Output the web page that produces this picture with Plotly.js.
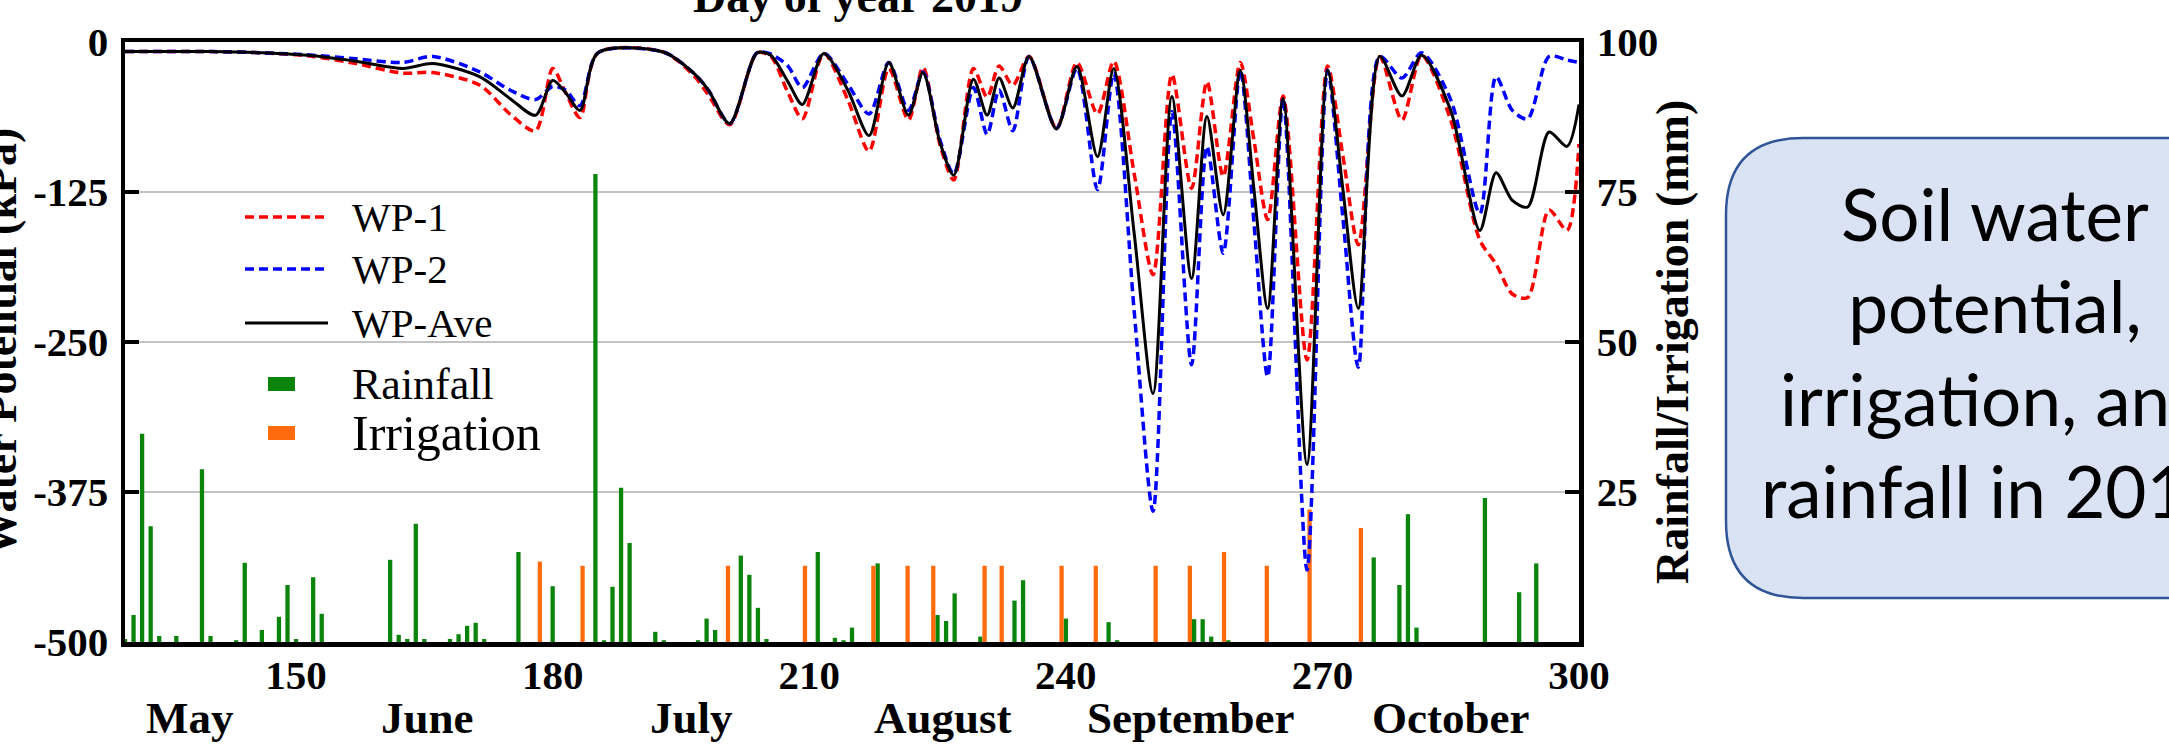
<!DOCTYPE html>
<html>
<head>
<meta charset="utf-8">
<script src="https://cdn.plot.ly/plotly-3.0.1.min.js"></script>
<style>html,body{margin:0;padding:0;background:#fff;}#chart{width:2169px;height:747px;}</style>
</head>
<body>
<div id="chart"></div>
<script>
// ---- data ----
const wpDays = [130,140,146,152,157,162.5,166,171.5,175,178,180,181.5,183.2,185.3,193,196.5,198.2,200.7,203.9,205.5,207.5,209.2,211.7,214.5,217,219.3,221.6,223.3,225.3,226.9,229.2,230.8,232.2,233.8,235.7,238.9,241.3,243.7,245.6,248,250.2,252.4,254.7,256.5,258.4,260.4,262,263.6,265.4,268.2,270.6,272.4,274.2,276.7,279.3,281.6,285,288.4,290.3,292.2,294,296.5,298.6,300];
const wp1 = [-8,-8,-9,-12,-18,-26,-25.5,-36,-60,-74,-22,-42,-63,-9,-8.5,-28,-44,-69,-9,-12,-42,-64,-9.5,-48,-91,-22,-65,-21,-86,-115,-22,-46,-20,-36,-12,-72,-17,-60,-16,-110,-194,-27,-122,-33,-112,-17,-82,-148,-45,-265,-20,-95,-169,-12,-65,-11,-65,-165,-185,-210,-213,-140,-157,-85];
const wp2 = [-8,-8,-9,-11,-14,-17,-12,-25,-40,-48,-37,-40,-53,-9,-8.5,-26,-40,-68,-9,-10,-20,-38,-9.5,-35,-60,-17,-57,-25,-82,-110,-38,-77,-40,-74,-12,-72,-22,-123,-26,-225,-391,-58,-269,-87,-176,-23.5,-151,-279,-47,-440,-23.5,-147,-271,-12,-30,-9,-48,-143,-29,-57,-64,-12,-15,-17];
const wpAve = [-8,-8,-9,-11.5,-16,-22,-18,-29,-47,-61,-32,-42,-57,-9,-8.5,-26,-40,-68,-9,-11,-33,-52,-9.5,-40,-78,-17,-61,-25.5,-84,-111,-31,-61,-30,-55,-12,-72.5,-20.5,-95.5,-22,-160,-293,-45.5,-197,-62,-144,-23.5,-123,-222,-47,-352,-23.5,-123,-222,-12,-45,-11,-57,-157,-109,-132,-137.5,-75,-87,-52];

const rainDays = [130,131,132,133,134,136,139,140,143,144,146,148,149,150,152,153,161,162,163,164,165,168,169,170,171,172,176,180,185,186,187,188,189,192,193,197,198,199,202,203,204,205,211,213,214,215,218,225,226,227,230,234,235,240,245,246,255,256,257,259,276,279,280,281,289,293,295];
const rainMm = [0.5,4.5,34.7,19.3,1,1,28.8,1,0.3,13.2,2,4.2,9.5,0.5,10.8,4.7,13.7,1.2,0.5,19.7,0.5,0.5,1.3,2.7,3.2,0.5,15,9.3,78,0.3,9.2,25.7,16.5,1.7,0.3,0.3,3.9,2,14.4,11.2,5.7,0.5,15,0.7,0.3,2.4,13.1,4.5,3.5,8.1,0.9,6.9,10.3,3.9,3.3,0.3,3.8,3.8,0.9,0.3,14.1,9.5,21.3,2.4,24,8.3,13.1];

const irrDays = [178.5,183.5,200.5,209.5,217.5,221.5,224.5,230.5,232.5,239.5,243.5,250.5,254.5,258.5,263.5,268.5,274.5];
const irrMm = [13.4,12.7,12.7,12.7,12.7,12.7,12.7,12.7,12.7,12.7,12.7,12.7,12.7,15,12.7,22.1,19];

const wpTicks = [0,-125,-250,-375,-500];
const mmTicks = [25,50,75,100];
const dayTicks = [150,180,210,240,270,300];
const months = ['May','June','July','August','September','October'];
const monthPos = [137.6,165.4,196.2,225.6,254.6,285.0];
const seriesNames = ['WP-1','WP-2','WP-Ave','Rainfall','Irrigation'];

// ---- layout geometry ----
const W = 2169, H = 747;
const L = 125, R = 1579, T = 42, B = 642;
const px = p => (p - L) / (R - L);
const py = p => (B - p) / (B - T);

const serif = 'Liberation Serif, Times New Roman, serif';
const RED = '#ff0000', BLUE = '#0000ff', BLACK = '#000000', GREEN = '#0a840a', ORANGE = '#ff6a0d';
const DASH = '9px,5px';

const traces = [
  {type:'bar', x: rainDays, y: rainMm, width: 0.5, marker:{color: GREEN, line:{width:0}}, xaxis:'x', yaxis:'y', name: seriesNames[3], hoverinfo:'x+y'},
  {type:'bar', x: irrDays, y: irrMm, width: 0.5, marker:{color: ORANGE, line:{width:0}}, xaxis:'x', yaxis:'y', name: seriesNames[4], hoverinfo:'x+y'},
  {type:'scatter', mode:'lines', x: wpDays, y: wp1, line:{color: RED, width: 3.5, dash: DASH, shape:'spline', smoothing: 0.8}, xaxis:'x', yaxis:'y2', name: seriesNames[0]},
  {type:'scatter', mode:'lines', x: wpDays, y: wp2, line:{color: BLUE, width: 3.5, dash: DASH, shape:'spline', smoothing: 0.8}, xaxis:'x', yaxis:'y2', name: seriesNames[1]},
  {type:'scatter', mode:'lines', x: wpDays, y: wpAve, line:{color: BLACK, width: 3, shape:'spline', smoothing: 0.8}, xaxis:'x', yaxis:'y2', name: seriesNames[2]}
];

const tickFont = {family: serif, size: 41, color: '#000', weight: 'bold'};

const annotations = [];
months.forEach((m, i) => annotations.push({
  x: monthPos[i], xref:'x', y: py(718), yref:'paper', text: m, showarrow:false,
  xanchor:'center', yanchor:'middle', font:{family: serif, size: 45, color:'#000', weight:'bold'}
}));
// axis titles
annotations.push({x: px(0), xref:'paper', y: py(342), yref:'paper', text:'Water Potential (kPa)', textangle:-90, showarrow:false,
  xanchor:'center', yanchor:'middle', font:{family: serif, size: 46, color:'#000', weight:'bold'}});
annotations.push({x: px(1672), xref:'paper', y: py(342), yref:'paper', text:'Rainfall/Irrigation (mm)', textangle:-90, showarrow:false,
  xanchor:'center', yanchor:'middle', font:{family: serif, size: 46, color:'#000', weight:'bold'}});
annotations.push({x: px(858), xref:'paper', y: py(-4), yref:'paper', text:'Day of year 2019', showarrow:false,
  xanchor:'center', yanchor:'middle', font:{family: serif, size: 46, color:'#000', weight:'bold'}});

// manual legend
const legRows = [217, 269, 323, 384, 433];
const legSizes = [41, 41, 41, 44, 50];
const shapes = [];
[[RED, DASH, 3.5], [BLUE, DASH, 3.5], [BLACK, 'solid', 3]].forEach((s, i) => {
  shapes.push({type:'line', xref:'paper', yref:'paper', x0: px(245), x1: px(328), y0: py(legRows[i]), y1: py(legRows[i]),
    line:{color: s[0], dash: s[1], width: s[2]}});
});
[GREEN, ORANGE].forEach((c, i) => {
  const r = legRows[3 + i];
  shapes.push({type:'rect', xref:'paper', yref:'paper', x0: px(268), x1: px(295), y0: py(r + 7), y1: py(r - 7),
    fillcolor: c, line:{width:0}});
});
seriesNames.forEach((n, i) => annotations.push({
  x: px(350), xref:'paper', y: py(legRows[i]), yref:'paper', text: n, showarrow:false,
  xanchor:'left', yanchor:'middle', font:{family: serif, size: legSizes[i], color:'#000'}
}));

// callout box on the right
const bx0 = px(1726), bx1 = px(2320), by0 = py(598), by1 = py(138);
const rx = 77 / (R - L), ry = 77 / (B - T);
shapes.push({type:'path', xref:'paper', yref:'paper', layer:'below',
  path: `M ${bx0+rx},${by1} L ${bx1},${by1} L ${bx1},${by0} L ${bx0+rx},${by0} Q ${bx0},${by0} ${bx0},${by0+ry} L ${bx0},${by1-ry} Q ${bx0},${by1} ${bx0+rx},${by1} Z`,
  fillcolor:'#dae3f3', line:{color:'#2f5597', width:2.5}});
annotations.push({x: px(1995), xref:'paper', y: py(352), yref:'paper',
  text:'Soil water<br>potential,<br>irrigation, and<br>rainfall in 2019', showarrow:false, align:'center',
  xanchor:'center', yanchor:'middle', font:{family:'Lato, Noto Sans, sans-serif', size: 71, color:'#000'}});

const layout = {
  width: W, height: H,
  margin: {l: L, r: W - R, t: T, b: H - B, pad: 0},
  paper_bgcolor:'#ffffff', plot_bgcolor:'#ffffff',
  showlegend: false,
  barmode: 'overlay',
  xaxis: {range:[130,300], tickvals: dayTicks, ticktext: dayTicks.map(String), ticks:'', showgrid:false, zeroline:false,
    showline:true, mirror:true, linecolor:'#000', linewidth:4.5, tickfont: tickFont, ticklabelstandoff: -7},
  yaxis: {range:[0,100], side:'right', tickvals: mmTicks, ticktext: mmTicks.map(String), ticks:'inside', ticklen:14, tickwidth:4, tickcolor:'#000',
    showgrid:true, gridcolor:'#c3c3c3', gridwidth:2, zeroline:false, showline:true, linecolor:'#000', linewidth:4.5,
    tickfont: tickFont, ticklabelstandoff: 5},
  yaxis2: {range:[-500,0], side:'left', overlaying:'y', tickvals: wpTicks, ticktext: wpTicks.map(String), ticks:'inside', ticklen:14, tickwidth:4, tickcolor:'#000',
    showgrid:false, zeroline:false, showline:true, linecolor:'#000', linewidth:4.5, tickfont: tickFont, ticklabelstandoff: 4},
  annotations: annotations,
  shapes: shapes
};

Plotly.newPlot('chart', traces, layout, {displayModeBar:false, staticPlot:true});
</script>
</body>
</html>
